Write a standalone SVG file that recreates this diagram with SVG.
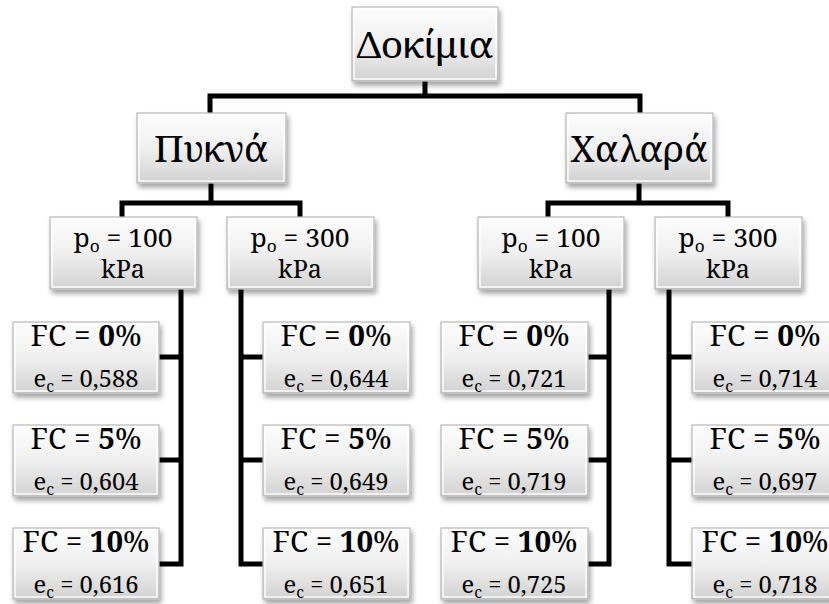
<svg xmlns="http://www.w3.org/2000/svg" width="829" height="604" viewBox="0 0 829 604">
<defs>
<linearGradient id="g" x1="0" y1="0" x2="0" y2="1">
<stop offset="0" stop-color="#fdfdfd"/>
<stop offset="0.5" stop-color="#f0f0f0"/>
<stop offset="1" stop-color="#d2d2d2"/>
</linearGradient>
<filter id="sh" x="-10%" y="-10%" width="125%" height="135%">
<feDropShadow dx="2" dy="4" stdDeviation="2.5" flood-color="#000" flood-opacity="0.35"/>
</filter>
<style>
.box{fill:url(#g);stroke:#b8b8b8;stroke-width:1.2;filter:url(#sh)}
.hl{fill:none;stroke:#ffffff;stroke-width:1.5;stroke-opacity:0.9}
.t{font-family:'Noto Serif','DejaVu Serif',serif;fill:#000;text-anchor:middle}
.big{font-size:37px}
.po{font-size:26px}
.fc{font-size:29px}
.ec{font-size:24px}
.conn{fill:none;stroke:#000;stroke-width:5;stroke-linejoin:miter;stroke-linecap:butt}
</style>
</defs>
<rect width="829" height="604" fill="#fff"/>

<g id="connectors" class="conn">
<path d="M425,81 V96 M210,113 V96 H640 V113"/>
<path d="M211,183 V203 M122,217 V203 H300 V217"/>
<path d="M639,183 V203 M548,217 V203 H728 V217"/>
<path d="M181,289 V566.5 M159,357 H183.5 M159,460 H183.5 M159,564 H183.5"/>
<path d="M241,289 V566.5 M238.5,357 H263 M238.5,460 H263 M238.5,564 H263"/>
<path d="M609,289 V566.5 M588,357 H611.5 M588,460 H611.5 M588,564 H611.5"/>
<path d="M669,289 V566.5 M666.5,357 H692 M666.5,460 H692 M666.5,564 H692"/>
</g>

<g id="dokimia">
<rect class="box" x="352" y="7" width="146" height="74"/>
<rect class="hl" x="354" y="9" width="142" height="70"/>
<text class="t big" x="425" y="58" textLength="137" lengthAdjust="spacingAndGlyphs">Δοκίμια</text>
</g>

<g id="pykna">
<rect class="box" x="137" y="113" width="149" height="70"/>
<rect class="hl" x="139" y="115" width="145" height="66"/>
<text class="t big" x="211" y="162" textLength="114" lengthAdjust="spacingAndGlyphs">Πυκνά</text>
</g>

<g id="xalara">
<rect class="box" x="566" y="113" width="147" height="70"/>
<rect class="hl" x="568" y="115" width="143" height="66"/>
<text class="t big" x="639" y="162" textLength="137" lengthAdjust="spacingAndGlyphs">Χαλαρά</text>
</g>

<g id="p1-100">
<rect class="box" x="50" y="217" width="147" height="72"/>
<rect class="hl" x="52" y="219" width="143" height="68"/>
<text class="t po" x="123" y="247" textLength="99" lengthAdjust="spacingAndGlyphs">p<tspan font-size="17" dy="5">o</tspan><tspan dy="-5"> = 100</tspan></text>
<text class="t po" x="123" y="278" textLength="44" lengthAdjust="spacingAndGlyphs">kPa</text>
</g>

<g id="p1-300">
<rect class="box" x="227" y="217" width="147" height="72"/>
<rect class="hl" x="229" y="219" width="143" height="68"/>
<text class="t po" x="300" y="247" textLength="99" lengthAdjust="spacingAndGlyphs">p<tspan font-size="17" dy="5">o</tspan><tspan dy="-5"> = 300</tspan></text>
<text class="t po" x="300" y="278" textLength="44" lengthAdjust="spacingAndGlyphs">kPa</text>
</g>

<g id="p2-100">
<rect class="box" x="478" y="217" width="146" height="72"/>
<rect class="hl" x="480" y="219" width="142" height="68"/>
<text class="t po" x="551" y="247" textLength="99" lengthAdjust="spacingAndGlyphs">p<tspan font-size="17" dy="5">o</tspan><tspan dy="-5"> = 100</tspan></text>
<text class="t po" x="551" y="278" textLength="44" lengthAdjust="spacingAndGlyphs">kPa</text>
</g>

<g id="p2-300">
<rect class="box" x="655" y="217" width="147" height="72"/>
<rect class="hl" x="657" y="219" width="143" height="68"/>
<text class="t po" x="728" y="247" textLength="99" lengthAdjust="spacingAndGlyphs">p<tspan font-size="17" dy="5">o</tspan><tspan dy="-5"> = 300</tspan></text>
<text class="t po" x="728" y="278" textLength="44" lengthAdjust="spacingAndGlyphs">kPa</text>
</g>

<g id="c1-0">
<rect class="box" x="13" y="322" width="146" height="71"/>
<rect class="hl" x="15" y="324" width="142" height="67"/>
<text class="t fc" x="86" y="346" textLength="111" lengthAdjust="spacingAndGlyphs">FC = <tspan font-weight="bold">0</tspan>%</text>
<text class="t ec" x="86" y="387" textLength="105" lengthAdjust="spacingAndGlyphs">e<tspan font-size="16" dy="5">c</tspan><tspan dy="-5"> = 0,588</tspan></text>
</g>
<g id="c1-5">
<rect class="box" x="13" y="425" width="146" height="71"/>
<rect class="hl" x="15" y="427" width="142" height="67"/>
<text class="t fc" x="86" y="449" textLength="111" lengthAdjust="spacingAndGlyphs">FC = <tspan font-weight="bold">5</tspan>%</text>
<text class="t ec" x="86" y="490" textLength="105" lengthAdjust="spacingAndGlyphs">e<tspan font-size="16" dy="5">c</tspan><tspan dy="-5"> = 0,604</tspan></text>
</g>
<g id="c1-10">
<rect class="box" x="13" y="528" width="146" height="71"/>
<rect class="hl" x="15" y="530" width="142" height="67"/>
<text class="t fc" x="86" y="552" textLength="127" lengthAdjust="spacingAndGlyphs">FC = <tspan font-weight="bold">10</tspan>%</text>
<text class="t ec" x="86" y="593" textLength="105" lengthAdjust="spacingAndGlyphs">e<tspan font-size="16" dy="5">c</tspan><tspan dy="-5"> = 0,616</tspan></text>
</g>

<g id="c2-0">
<rect class="box" x="263" y="322" width="147" height="71"/>
<rect class="hl" x="265" y="324" width="143" height="67"/>
<text class="t fc" x="336" y="346" textLength="111" lengthAdjust="spacingAndGlyphs">FC = <tspan font-weight="bold">0</tspan>%</text>
<text class="t ec" x="336" y="387" textLength="105" lengthAdjust="spacingAndGlyphs">e<tspan font-size="16" dy="5">c</tspan><tspan dy="-5"> = 0,644</tspan></text>
</g>
<g id="c2-5">
<rect class="box" x="263" y="425" width="147" height="71"/>
<rect class="hl" x="265" y="427" width="143" height="67"/>
<text class="t fc" x="336" y="449" textLength="111" lengthAdjust="spacingAndGlyphs">FC = <tspan font-weight="bold">5</tspan>%</text>
<text class="t ec" x="336" y="490" textLength="105" lengthAdjust="spacingAndGlyphs">e<tspan font-size="16" dy="5">c</tspan><tspan dy="-5"> = 0,649</tspan></text>
</g>
<g id="c2-10">
<rect class="box" x="263" y="528" width="147" height="71"/>
<rect class="hl" x="265" y="530" width="143" height="67"/>
<text class="t fc" x="336" y="552" textLength="127" lengthAdjust="spacingAndGlyphs">FC = <tspan font-weight="bold">10</tspan>%</text>
<text class="t ec" x="336" y="593" textLength="105" lengthAdjust="spacingAndGlyphs">e<tspan font-size="16" dy="5">c</tspan><tspan dy="-5"> = 0,651</tspan></text>
</g>

<g id="c3-0">
<rect class="box" x="441" y="322" width="147" height="71"/>
<rect class="hl" x="443" y="324" width="143" height="67"/>
<text class="t fc" x="514" y="346" textLength="111" lengthAdjust="spacingAndGlyphs">FC = <tspan font-weight="bold">0</tspan>%</text>
<text class="t ec" x="514" y="387" textLength="105" lengthAdjust="spacingAndGlyphs">e<tspan font-size="16" dy="5">c</tspan><tspan dy="-5"> = 0,721</tspan></text>
</g>
<g id="c3-5">
<rect class="box" x="441" y="425" width="147" height="71"/>
<rect class="hl" x="443" y="427" width="143" height="67"/>
<text class="t fc" x="514" y="449" textLength="111" lengthAdjust="spacingAndGlyphs">FC = <tspan font-weight="bold">5</tspan>%</text>
<text class="t ec" x="514" y="490" textLength="105" lengthAdjust="spacingAndGlyphs">e<tspan font-size="16" dy="5">c</tspan><tspan dy="-5"> = 0,719</tspan></text>
</g>
<g id="c3-10">
<rect class="box" x="441" y="528" width="147" height="71"/>
<rect class="hl" x="443" y="530" width="143" height="67"/>
<text class="t fc" x="514" y="552" textLength="127" lengthAdjust="spacingAndGlyphs">FC = <tspan font-weight="bold">10</tspan>%</text>
<text class="t ec" x="514" y="593" textLength="105" lengthAdjust="spacingAndGlyphs">e<tspan font-size="16" dy="5">c</tspan><tspan dy="-5"> = 0,725</tspan></text>
</g>

<g id="c4-0">
<rect class="box" x="692" y="322" width="147" height="71"/>
<rect class="hl" x="694" y="324" width="143" height="67"/>
<text class="t fc" x="765" y="346" textLength="111" lengthAdjust="spacingAndGlyphs">FC = <tspan font-weight="bold">0</tspan>%</text>
<text class="t ec" x="765" y="387" textLength="105" lengthAdjust="spacingAndGlyphs">e<tspan font-size="16" dy="5">c</tspan><tspan dy="-5"> = 0,714</tspan></text>
</g>
<g id="c4-5">
<rect class="box" x="692" y="425" width="147" height="71"/>
<rect class="hl" x="694" y="427" width="143" height="67"/>
<text class="t fc" x="765" y="449" textLength="111" lengthAdjust="spacingAndGlyphs">FC = <tspan font-weight="bold">5</tspan>%</text>
<text class="t ec" x="765" y="490" textLength="105" lengthAdjust="spacingAndGlyphs">e<tspan font-size="16" dy="5">c</tspan><tspan dy="-5"> = 0,697</tspan></text>
</g>
<g id="c4-10">
<rect class="box" x="692" y="528" width="147" height="71"/>
<rect class="hl" x="694" y="530" width="143" height="67"/>
<text class="t fc" x="765" y="552" textLength="127" lengthAdjust="spacingAndGlyphs">FC = <tspan font-weight="bold">10</tspan>%</text>
<text class="t ec" x="765" y="593" textLength="105" lengthAdjust="spacingAndGlyphs">e<tspan font-size="16" dy="5">c</tspan><tspan dy="-5"> = 0,718</tspan></text>
</g>
</svg>
